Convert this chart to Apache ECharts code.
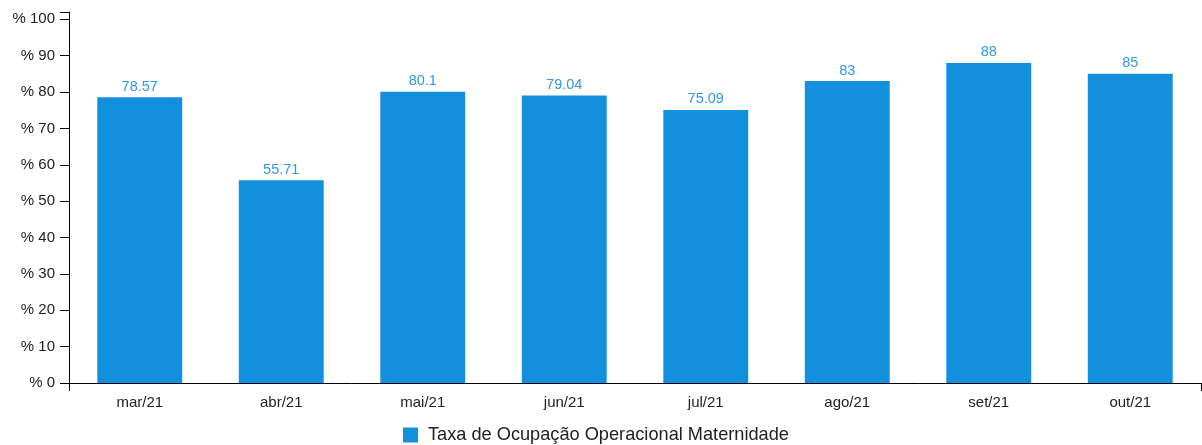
<!DOCTYPE html>
<html>
<head>
<meta charset="utf-8">
<script src="https://cdn.jsdelivr.net/npm/echarts@6/dist/echarts.min.js"></script>
<style>html,body{margin:0;padding:0;background:#fff}#c{width:1202px;height:445px}</style>
</head>
<body>
<div id="c"></div>
<script>
var categories = ['mar/21', 'abr/21', 'mai/21', 'jun/21', 'jul/21', 'ago/21', 'set/21', 'out/21'];
var values = [78.57, 55.71, 80.1, 79.04, 75.09, 83, 88, 85];
var seriesName = 'Taxa de Ocupação Operacional Maternidade';
var yTicks = [0, 10, 20, 30, 40, 50, 60, 70, 80, 90, 100];

var chart = echarts.init(document.getElementById('c'), null, {renderer: 'canvas'});
var font = 'Liberation Sans, Arial, sans-serif';
chart.setOption({
  animation: false,
  textStyle: {fontFamily: font},
  grid: {left: 69, right: 1, top: 12, height: 371, containLabel: false},
  legend: {
    top: 426, left: 403, padding: [0, 5, 0, 0],
    itemWidth: 15, itemHeight: 15, itemGap: 10,
    icon: 'rect',
    textStyle: {fontSize: 18.2, color: '#222', fontFamily: font, padding: [0, 0, 0, 5]},
    data: [seriesName]
  },
  xAxis: [{
    type: 'category',
    data: categories,
    boundaryGap: true,
    axisLine: {lineStyle: {color: '#000', width: 1}},
    axisTick: {alignWithLabel: true, length: 8, lineStyle: {color: '#000'}},
    axisLabel: {color: '#222', fontSize: 15, margin: 12, fontFamily: font},
    splitLine: {show: false}
  }, {
    type: 'value',
    position: 'bottom',
    min: 0, max: categories.length, interval: categories.length,
    axisLine: {show: false},
    axisTick: {show: true, length: 8, lineStyle: {color: '#000'}},
    axisLabel: {show: false},
    splitLine: {show: false}
  }],
  yAxis: {
    type: 'value',
    min: yTicks[0], max: 102, interval: 10,
    axisLine: {show: true, lineStyle: {color: '#000', width: 1}},
    axisTick: {show: true, length: 9, lineStyle: {color: '#000'}},
    axisLabel: {
      color: '#222', fontSize: 15, margin: 14, fontFamily: font,
      formatter: function (v) { return yTicks.indexOf(v) >= 0 ? '% ' + v : ''; }
    },
    splitLine: {show: false}
  },
  series: [{
    name: seriesName,
    type: 'bar',
    xAxisIndex: 0,
    data: values,
    barWidth: '60%',
    itemStyle: {color: '#1390dd'},
    label: {show: true, position: 'top', distance: 3, color: '#3399e6', fontSize: 14.5, fontFamily: font}
  }]
});
</script>
</body>
</html>
